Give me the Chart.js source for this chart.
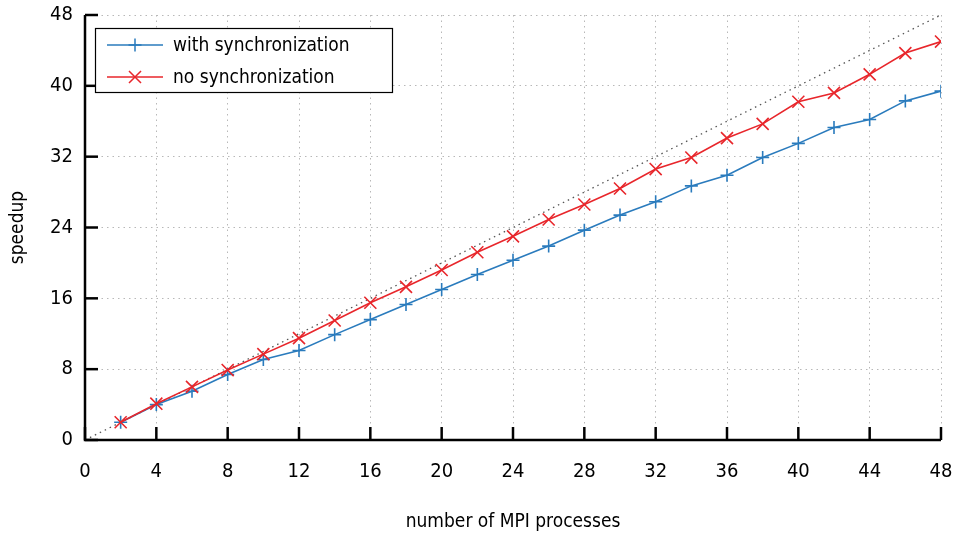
<!DOCTYPE html>
<html>
<head>
<meta charset="utf-8">
<script src="https://cdn.jsdelivr.net/npm/chart.js@4/dist/chart.umd.min.js"></script>
<style>
  html, body { margin: 0; padding: 0; background: #fff; }
  #wrap { position: relative; width: 955px; height: 538px; }
</style>
</head>
<body>
<div id="wrap"><canvas id="speedup-chart"></canvas></div>
<script>
const processes = [2, 4, 6, 8, 10, 12, 14, 16, 18, 20, 22, 24, 26, 28, 30, 32, 34, 36, 38, 40, 42, 44, 46, 48];
const withSync = [2.0, 4.0, 5.5, 7.4, 9.1, 10.1, 11.9, 13.6, 15.3, 17.0, 18.7, 20.3, 21.9, 23.7, 25.4, 26.9, 28.7, 29.9, 31.9, 33.5, 35.3, 36.2, 38.3, 39.4];
const noSync = [2.0, 4.1, 6.0, 7.9, 9.7, 11.5, 13.5, 15.5, 17.3, 19.2, 21.2, 23.0, 24.9, 26.6, 28.4, 30.6, 31.9, 34.1, 35.7, 38.2, 39.2, 41.3, 43.7, 45.0];
const idealX = [0, 48];
const idealY = [0, 48];
const xTicks = [0, 4, 8, 12, 16, 20, 24, 28, 32, 36, 40, 44, 48];
const yTicks = [0, 8, 16, 24, 32, 40, 48];

const FONT = "'Liberation Sans Narrow', 'DejaVu Sans Condensed', 'Roboto', sans-serif";
const BLUE = '#2a7bbd';
const RED = '#e8262b';

const toPoints = (xs, ys) => xs.map((x, i) => ({ x: x, y: ys[i] }));

// axes with inward tick marks, gnuplot style
const axesPlugin = {
  id: 'axesPlugin',
  afterDraw(chart) {
    const { ctx, chartArea: a, scales: { x, y } } = chart;
    ctx.save();
    ctx.strokeStyle = '#000';
    ctx.lineWidth = 2.5;
    ctx.beginPath();
    ctx.moveTo(a.left, a.top);
    ctx.lineTo(a.left, a.bottom);
    ctx.lineTo(a.right, a.bottom);
    ctx.stroke();
    xTicks.forEach(v => {
      const px = x.getPixelForValue(v);
      ctx.beginPath();
      ctx.moveTo(px, a.bottom);
      ctx.lineTo(px, a.bottom - 13);
      ctx.stroke();
    });
    yTicks.forEach(v => {
      const py = y.getPixelForValue(v);
      ctx.beginPath();
      ctx.moveTo(a.left, py);
      ctx.lineTo(a.left + 13, py);
      ctx.stroke();
    });
    ctx.restore();
  }
};

// legend box in the upper left corner
const legendPlugin = {
  id: 'legendBox',
  afterDraw(chart) {
    const { ctx } = chart;
    const items = chart.data.datasets.filter(d => d.inLegend);
    const left = 95, top = 28, w = 297, h = 64;
    ctx.save();
    ctx.fillStyle = '#fff';
    ctx.fillRect(left, top, w, h);
    ctx.strokeStyle = '#000';
    ctx.lineWidth = 1.2;
    ctx.strokeRect(left + 0.5, top + 0.5, w, h);
    items.forEach((d, i) => {
      const cy = top + 17 + i * 32;
      ctx.strokeStyle = d.borderColor;
      ctx.lineWidth = 1.5;
      ctx.beginPath();
      ctx.moveTo(107, cy);
      ctx.lineTo(163, cy);
      ctx.stroke();
      Chart.helpers.drawPoint(ctx, {
        pointStyle: d.pointStyle,
        radius: d.pointRadius,
        borderWidth: d.pointBorderWidth
      }, 135, cy);
      ctx.fillStyle = '#000';
      ctx.font = '19px ' + FONT;
      ctx.textBaseline = 'middle';
      ctx.fillText(d.label, 173, cy + 1);
    });
    ctx.restore();
  }
};

const ctx = document.getElementById('speedup-chart').getContext('2d');

new Chart(ctx, {
  type: 'line',
  data: {
    datasets: [
      {
        label: 'with synchronization',
        inLegend: true,
        data: toPoints(processes, withSync),
        borderColor: BLUE,
        backgroundColor: BLUE,
        borderWidth: 1.6,
        pointStyle: 'cross',
        pointRadius: 6.5,
        pointBorderWidth: 1.6,
        pointBorderColor: BLUE,
        tension: 0,
        order: 2
      },
      {
        label: 'no synchronization',
        inLegend: true,
        data: toPoints(processes, noSync),
        borderColor: RED,
        backgroundColor: RED,
        borderWidth: 1.6,
        pointStyle: 'crossRot',
        pointRadius: 8.5,
        pointBorderWidth: 1.6,
        pointBorderColor: RED,
        tension: 0,
        order: 1
      },
      {
        label: 'ideal',
        inLegend: false,
        data: toPoints(idealX, idealY),
        borderColor: '#555',
        borderWidth: 1.3,
        borderDash: [1.5, 4],
        pointRadius: 0,
        order: 3
      }
    ]
  },
  options: {
    responsive: true,
    maintainAspectRatio: false,
    animation: false,
    layout: { padding: { top: 15, right: 14, left: 0, bottom: 0 } },
    plugins: {
      legend: { display: false },
      tooltip: { enabled: false }
    },
    scales: {
      x: {
        type: 'linear',
        min: 0,
        max: 48,
        afterBuildTicks: scale => { scale.ticks = xTicks.map(v => ({ value: v })); },
        afterFit: scale => {
          scale.height = 98;
          scale.paddingLeft = 0;
          scale.paddingRight = 0;
        },
        grid: { color: '#b8b8b8', lineWidth: 1, drawTicks: false },
        border: { display: false, dash: [1.5, 4] },
        ticks: {
          color: '#000',
          padding: 20,
          maxRotation: 0,
          font: { family: FONT, size: 20 }
        },
        title: {
          display: true,
          text: 'number of MPI processes',
          color: '#000',
          padding: { top: 0, bottom: 5 },
          font: { family: FONT, size: 19 }
        }
      },
      y: {
        type: 'linear',
        min: 0,
        max: 48,
        afterBuildTicks: scale => { scale.ticks = yTicks.map(v => ({ value: v })); },
        afterFit: scale => {
          scale.width = 85;
          scale.paddingTop = 0;
          scale.paddingBottom = 0;
        },
        grid: { color: '#b8b8b8', lineWidth: 1, drawTicks: false },
        border: { display: false, dash: [1.5, 4] },
        ticks: {
          color: '#000',
          padding: 12,
          font: { family: FONT, size: 20 }
        },
        title: {
          display: true,
          text: 'speedup',
          color: '#000',
          padding: { top: 7, bottom: 4 },
          font: { family: FONT, size: 19 }
        }
      }
    }
  },
  plugins: [axesPlugin, legendPlugin]
});
</script>
</body>
</html>
